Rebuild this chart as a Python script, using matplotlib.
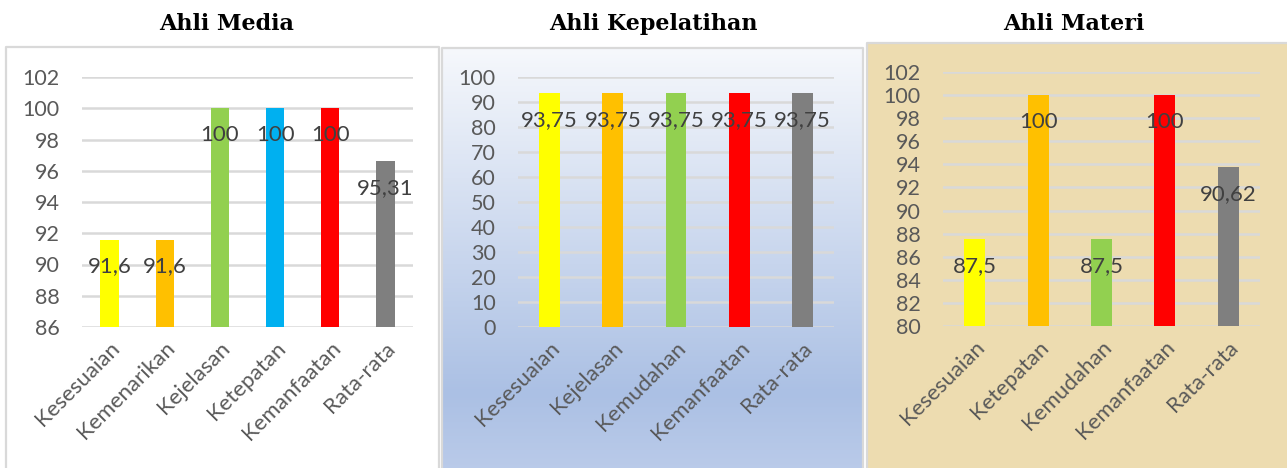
import numpy as np
import matplotlib.pyplot as plt
from matplotlib.patches import Rectangle

# data
media_cats = ['Kesesuaian', 'Kemenarikan', 'Kejelasan', 'Ketepatan', 'Kemanfaatan', 'Rata-rata']
media_vals = [91.6, 91.6, 100, 100, 100, 96.64]
media_labels = ['91,6', '91,6', '100', '100', '100', '95,31']
media_colors = ['#ffff00', '#ffc000', '#92d050', '#00b0f0', '#ff0000', '#7f7f7f']

pelatih_cats = ['Kesesuaian', 'Kejelasan', 'Kemudahan', 'Kemanfaatan', 'Rata-rata']
pelatih_vals = [93.75, 93.75, 93.75, 93.75, 93.75]
pelatih_labels = ['93,75', '93,75', '93,75', '93,75', '93,75']
pelatih_colors = ['#ffff00', '#ffc000', '#92d050', '#ff0000', '#7f7f7f']

materi_cats = ['Kesesuaian', 'Ketepatan', 'Kemudahan', 'Kemanfaatan', 'Rata-rata']
materi_vals = [87.5, 100, 87.5, 100, 93.75]
materi_labels = ['87,5', '100', '87,5', '100', '90,62']
materi_colors = ['#ffff00', '#ffc000', '#92d050', '#ff0000', '#7f7f7f']

W, H = 1287, 468
fig = plt.figure(figsize=(W / 100, H / 100), dpi=100)
fig.patch.set_facecolor('white')

TXT = '#595959'
GRID = '#d9d9d9'
FONT = 'Lato'


def px(x0, y0, x1, y1):
    # pixel box (top-left origin) -> figure fraction rect
    return [x0 / W, 1 - y1 / H, (x1 - x0) / W, (y1 - y0) / H]


def panel_bg(box, kind):
    bg = fig.add_axes(px(*box), zorder=0)
    bg.set_xlim(0, 1)
    bg.set_ylim(0, 1)
    bg.axis('off')
    if kind == 'white':
        bg.add_patch(Rectangle((0, 0), 1, 1, facecolor='white', edgecolor='none'))
    elif kind == 'blue':
        top = np.array([0xf6, 0xf8, 0xfc]) / 255
        mid = np.array([0xab, 0xc0, 0xe4]) / 255
        bot = np.array([0xbc, 0xcc, 0xea]) / 255
        t = np.linspace(0, 1, 200)[:, None]
        grad = np.where(t < 0.8, top + (mid - top) * (t / 0.8),
                        mid + (bot - mid) * ((t - 0.8) / 0.2))
        bg.imshow(grad[:, None, :], extent=[0, 1, 0, 1], aspect='auto', origin='upper')
    else:
        bg.add_patch(Rectangle((0, 0), 1, 1, facecolor='#eddcb0', edgecolor='none'))
    # border
    bg.plot([0, 0, 1, 1], [0, 1, 1, 0], color=GRID, lw=1.6, clip_on=False)


def bar_panel(box, cats, vals, labels, colors, ylim, step, title, title_x, title_y):
    ax = fig.add_axes(px(*box), zorder=2)
    ax.patch.set_alpha(0)
    x = np.arange(len(cats))
    ax.bar(x, vals, width=0.33, color=colors, zorder=3)
    ax.set_xlim(-0.5, len(cats) - 0.5)
    ax.set_ylim(*ylim)
    ax.set_yticks(np.arange(ylim[0], ylim[1] + 0.01, step))
    ax.yaxis.grid(True, color=GRID, lw=1.8, zorder=1)
    ax.set_axisbelow(True)
    for s in ax.spines.values():
        s.set_visible(False)
    ax.tick_params(axis='y', length=0, colors=TXT, labelsize=15.5, pad=16)
    ax.tick_params(axis='x', length=0, colors=TXT, labelsize=16, pad=8)
    ax.set_xticks(x)
    ax.set_xticklabels(cats, rotation=45, ha='right', rotation_mode='anchor',
                       fontname=FONT)
    for lab in ax.get_yticklabels():
        lab.set_fontname(FONT)
    for xi, v, lab in zip(x, vals, labels):
        ax.annotate(lab, (xi, v), xytext=(0, -27), textcoords='offset pixels',
                    ha='center', va='center', color='#404040', fontsize=16,
                    fontname=FONT, zorder=4)
    fig.text(title_x / W, 1 - title_y / H, title, ha='center', va='center',
             fontsize=16, fontweight='bold', family='DejaVu Serif')
    return ax


panel_bg((6, 47, 439, 480), 'white')
panel_bg((442, 48, 863, 480), 'blue')
panel_bg((867, 43, 1290, 480), 'paper')

bar_panel((82, 77, 413, 327), media_cats, media_vals, media_labels, media_colors,
          (86, 102), 2, 'Ahli Media', 227, 24)
bar_panel((518, 77, 834, 327), pelatih_cats, pelatih_vals, pelatih_labels, pelatih_colors,
          (0, 100), 10, 'Ahli Kepelatihan', 653, 24)
bar_panel((943, 72, 1260, 326), materi_cats, materi_vals, materi_labels, materi_colors,
          (80, 102), 2, 'Ahli Materi', 1074, 24)

fig.savefig('out.png', dpi=100)
